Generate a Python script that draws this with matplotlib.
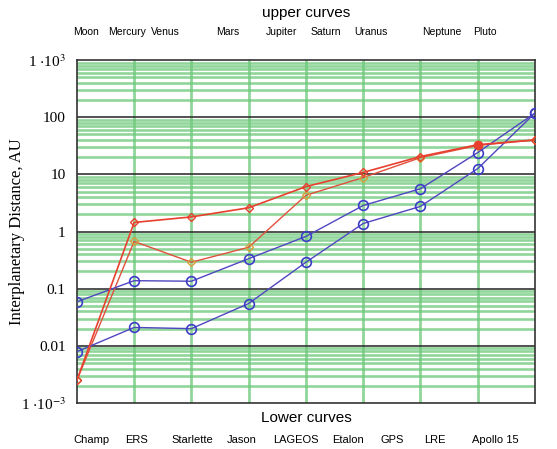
import numpy as np
import matplotlib
matplotlib.use("Agg")
import matplotlib.pyplot as plt
from matplotlib.ticker import FixedLocator

# data
x_pos = np.arange(9)
red_upper = [0.0025, 1.44, 1.8, 2.6, 6.1, 10.8, 20.5, 33, 40]
red_lower = [0.0025, 0.67, 0.29, 0.53, 4.3, 8.8, 19.6, 32, 40]
blue_upper = [0.059, 0.138, 0.135, 0.335, 0.82, 2.85, 5.6, 24, 118]
blue_lower = [0.0079, 0.021, 0.020, 0.055, 0.29, 1.38, 2.75, 12.6, 118]

upper_names = ["Moon", "Mercury", "Venus", "Mars", "Jupiter", "Saturn",
               "Uranus", "Neptune", "Pluto"]
upper_at = [0.16, 0.88, 1.55, 2.64, 3.58, 4.35, 5.14, 6.38, 7.13]
lower_names = ["Champ", "ERS", "Starlette", "Jason", "LAGEOS", "Etalon",
               "GPS", "LRE", "Apollo 15"]
lower_at = [0.26, 1.05, 2.01, 2.88, 3.82, 4.73, 5.5, 6.25, 7.3]

y_ticks = [1e-3, 1e-2, 1e-1, 1, 10, 100, 1e3]
y_labels = ["1 $\\cdot$10$^{-3}$", "0.01", "0.1", "1", "10", "100",
            "1 $\\cdot$10$^{3}$"]

plt.rcParams["mathtext.fontset"] = "stix"

fig = plt.figure(figsize=(5.57, 4.49), dpi=100)
ax = fig.add_axes([0.138, 0.1024, 0.8225, 0.7640])

ax.set_yscale("log")
ax.set_ylim(1e-3, 1e3)
ax.set_xlim(0, 8)

# grid: green minor lines, dark major lines
minor = [m * 10.0 ** e for e in range(-3, 3) for m in range(2, 10)]
for v in minor:
    ax.axhline(v, color="#6cc878", lw=1.9, alpha=0.75, zorder=1)
for v in y_ticks[1:-1]:
    ax.axhline(v, color="#333333", lw=1.2, zorder=2)
for xv in x_pos[1:-1]:
    ax.axvline(xv, color="#6cc878", lw=2.0, alpha=0.75, zorder=1)

ax.plot(x_pos, red_lower, color="#e0503c", lw=1.0, marker="D", ms=4.5,
        mfc="none", mec="#d8a03a", mew=1.0, zorder=4)
ax.plot(x_pos, red_upper, color="#e8402e", lw=1.2, marker="D", ms=4.5,
        mfc="none", mec="#e8402e", mew=1.0, zorder=5)
ax.plot(x_pos[7], red_upper[7], marker="o", ms=6, color="#e8402e", zorder=6)
ax.plot(x_pos, blue_upper, color="#5046c0", lw=1.0, marker="o", ms=7,
        mfc="none", mec="#3c3cc8", mew=1.2, zorder=4)
ax.plot(x_pos, blue_lower, color="#5046c0", lw=1.0, marker="o", ms=7,
        mfc="none", mec="#3c3cc8", mew=1.2, zorder=4)

ax.yaxis.set_major_locator(FixedLocator(y_ticks))
ax.yaxis.set_minor_locator(FixedLocator([]))
ax.set_yticklabels(y_labels, fontfamily="Liberation Serif", fontsize=11)
ax.tick_params(axis="y", length=0, pad=8)
ax.set_xticks([])
ax.set_ylabel("Interplanetary Distance, AU", fontfamily="Liberation Serif",
              fontsize=12)
ax.yaxis.set_label_coords(-0.113, 0.5)

for s in ax.spines.values():
    s.set_color("#333333")
    s.set_linewidth(1.2)

# upper and lower name rows
for name, xv in zip(upper_names, upper_at):
    ax.text(xv, 1.082, name, transform=ax.get_xaxis_transform(), ha="center",
            va="center", fontsize=7.5, fontfamily="Liberation Sans")
for name, xv in zip(lower_names, lower_at):
    ax.text(xv, -0.108, name, transform=ax.get_xaxis_transform(), ha="center",
            va="center", fontsize=8, fontfamily="Liberation Sans")
ax.text(4, 1.137, "upper curves", transform=ax.get_xaxis_transform(),
        ha="center", va="center", fontsize=11, fontfamily="Liberation Sans")
ax.text(4, -0.044, "Lower curves", transform=ax.get_xaxis_transform(),
        ha="center", va="center", fontsize=11, fontfamily="Liberation Sans")

fig.savefig("out.png", dpi=100)
